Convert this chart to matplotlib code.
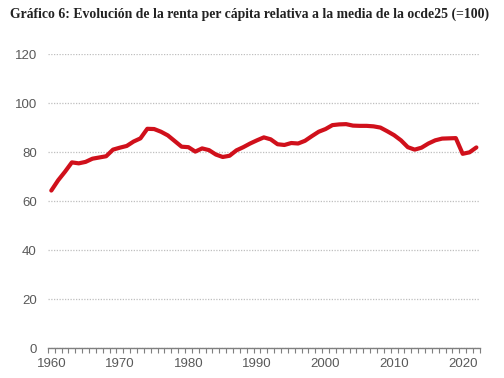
import numpy as np
import matplotlib
matplotlib.use("Agg")
import matplotlib.pyplot as plt
from matplotlib.ticker import FixedLocator

years = list(range(1960, 2023))
renta = [
    64.3, 68.5, 72.0, 75.8, 75.4, 76.0, 77.3, 77.8, 78.3, 81.0,
    81.8, 82.5, 84.3, 85.6, 89.5, 89.4, 88.3, 86.8, 84.5, 82.2,
    82.0, 80.2, 81.5, 80.8, 79.0, 78.0, 78.5, 80.7, 82.0, 83.5,
    84.8, 86.0, 85.2, 83.2, 82.9, 83.7, 83.5, 84.6, 86.5, 88.3,
    89.4, 91.0, 91.3, 91.4, 90.8, 90.7, 90.7, 90.5, 90.0, 88.5,
    86.9, 84.8, 82.0, 81.0, 81.8, 83.5, 84.8, 85.5, 85.6, 85.7,
    79.3, 79.9, 81.9,
]
x_labels = [1960, 1970, 1980, 1990, 2000, 2010, 2020]
y_ticks = [0, 20, 40, 60, 80, 100, 120]

gray = "#595959"

fig = plt.figure(figsize=(5.04, 3.78), dpi=100)
ax = fig.add_axes([0.095, 0.079, 0.857, 0.778])

ax.plot(years, renta, color="#D0101B", linewidth=3.0, solid_joinstyle="round",
        solid_capstyle="round", zorder=3)

ax.set_xlim(1959.5, 2022.5)
ax.set_ylim(0, 120)
ax.set_yticks(y_ticks)
ax.set_xticks(x_labels)
ax.xaxis.set_minor_locator(FixedLocator(np.arange(1959.5, 2023, 1.0)))
ax.tick_params(axis="x", which="major", length=0, pad=7, labelsize=9.5, labelcolor=gray)
ax.tick_params(axis="x", which="minor", length=3.5, width=0.8, color="#7f7f7f", direction="out")
ax.tick_params(axis="y", length=0, pad=8, labelsize=9.5, labelcolor=gray)
for lab in ax.get_xticklabels() + ax.get_yticklabels():
    lab.set_fontfamily("Liberation Sans")

ax.grid(True, axis="y", color="#bfbfbf", linestyle=(0, (1, 1.2)), linewidth=0.9, zorder=0)
for s in ["top", "right", "left"]:
    ax.spines[s].set_visible(False)
ax.spines["bottom"].set_color("#7f7f7f")
ax.spines["bottom"].set_linewidth(1.0)

fig.text(0.02, 0.962, "Gráfico 6: Evolución de la renta per cápita relativa a la media de la ocde25 (=100)",
         fontfamily="Liberation Serif", fontweight="bold", fontsize=9.9, color="#222222",
         ha="left", va="center")

plt.savefig("out.png", dpi=100)
